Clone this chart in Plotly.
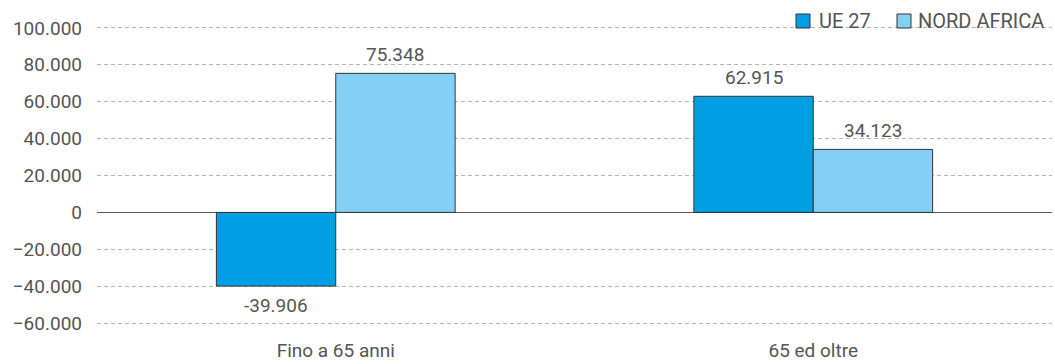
import plotly.graph_objects as go

categories = ["Fino a 65 anni", "65 ed oltre"]
series_names = ["UE 27", "NORD AFRICA"]
ue27 = [-39906, 62915]
nord_africa = [75348, 34123]
tick_vals = [-60000, -40000, -20000, 0, 20000, 40000, 60000, 80000, 100000]

colors = ["#009FE3", "#84D0F5"]
font_family = "Roboto, 'Open Sans', sans-serif"
text_color = "#555555"
W, H = 1055, 364
ML, MR, MT, MB = 97, 3, 26, 39
plot_w = W - ML - MR
plot_h = H - MT - MB


def px_x(p):
    return (p - ML) / plot_w


def px_y(p):
    return 1 - (p - MT) / plot_h


def fmt(v):
    s = f"{abs(v):,}".replace(",", ".")
    return ("-" if v < 0 else "") + s


fig = go.Figure()
for name, vals, col in zip(series_names, [ue27, nord_africa], colors):
    fig.add_trace(go.Bar(
        x=categories, y=vals, name=name, showlegend=False,
        marker=dict(color=col, line=dict(color="#333333", width=1)),
        hoverinfo="x+y",
    ))

# value labels
bar_offset = 59.5
for sign, vals in zip([-1, 1], [ue27, nord_africa]):
    for cat, v in zip(categories, vals):
        fig.add_annotation(
            x=cat, y=v, text=fmt(v), showarrow=False,
            xshift=sign * bar_offset, yshift=19 if v >= 0 else -19,
            yanchor="middle", xanchor="center",
            font=dict(size=19, color=text_color, family=font_family),
        )

# custom legend
legend_items = [(796, 817), (897, 916)]
for (sx, tx), name, col in zip(legend_items, series_names, colors):
    fig.add_shape(type="rect", xref="paper", yref="paper",
                  x0=px_x(sx), x1=px_x(sx + 14), y0=px_y(28), y1=px_y(14),
                  fillcolor=col, line=dict(color="#333333", width=1))
    fig.add_annotation(xref="paper", yref="paper", x=px_x(tx), y=px_y(21),
                       text=name, showarrow=False, xanchor="left", yanchor="middle",
                       font=dict(size=20, color=text_color, family=font_family))

fig.update_layout(
    width=W, height=H,
    margin=dict(l=ML, r=MR, t=MT, b=MB),
    paper_bgcolor="white", plot_bgcolor="white",
    separators=",.",
    barmode="group", bargap=0.5, bargroupgap=0,
    font=dict(family=font_family, size=19, color=text_color),
    showlegend=False,
    xaxis=dict(showgrid=False, showline=False, ticks="", ticklabelstandoff=12,
               automargin=False, tickfont=dict(size=19, color=text_color)),
    yaxis=dict(range=[-61000, 101000], tickvals=tick_vals, tickformat=",d",
               showgrid=True, gridcolor="#b3b3b3", griddash="4px,3px", gridwidth=1,
               zeroline=True, zerolinecolor="#555555", zerolinewidth=1,
               ticks="", ticklabelstandoff=14, automargin=False,
               tickfont=dict(size=19, color=text_color)),
)

fig.write_html("out.html")
